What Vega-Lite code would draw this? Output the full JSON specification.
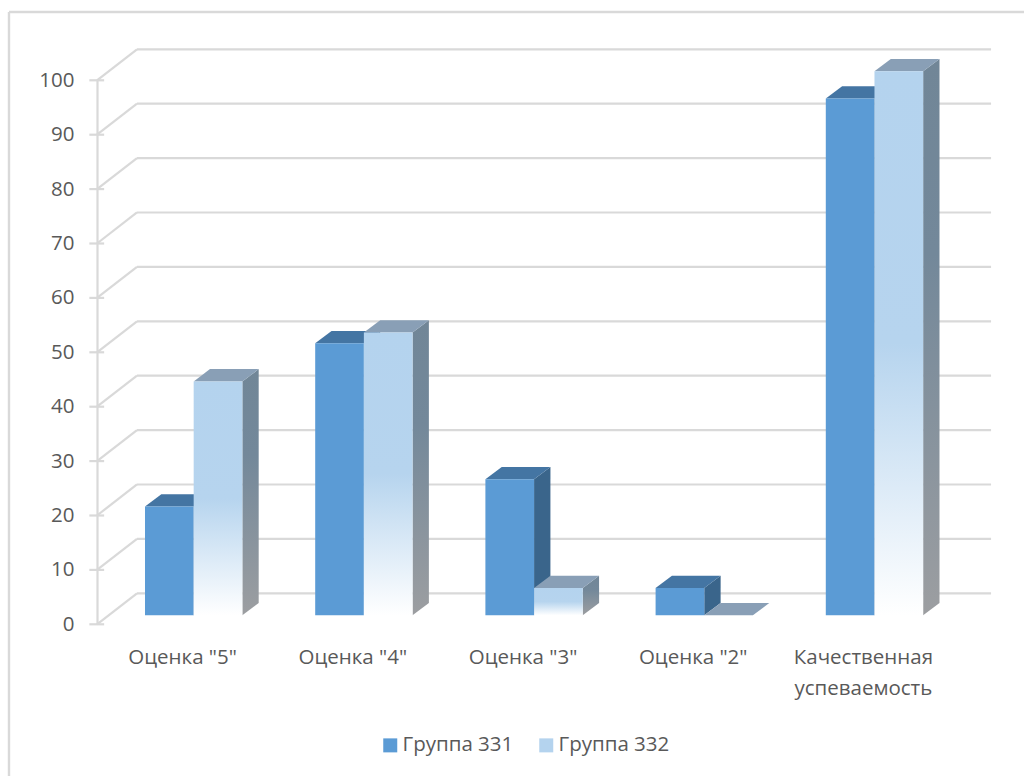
{
  "$schema": "https://vega.github.io/schema/vega-lite/v6.json",
  "autosize": {"type": "none"},
  "padding": {"left": 9, "top": 12, "right": 0, "bottom": 0},
  "width": 1015,
  "height": 764,
  "background": "white",
  "view": {"stroke": null},
  "config": {"font": "Open Sans", "axis": {"grid": false}},
  "data": {"values": [
    {"category": "Оценка \"5\"", "series": "Группа 331", "value": 20},
    {"category": "Оценка \"5\"", "series": "Группа 332", "value": 43},
    {"category": "Оценка \"4\"", "series": "Группа 331", "value": 50},
    {"category": "Оценка \"4\"", "series": "Группа 332", "value": 52},
    {"category": "Оценка \"3\"", "series": "Группа 331", "value": 25},
    {"category": "Оценка \"3\"", "series": "Группа 332", "value": 5},
    {"category": "Оценка \"2\"", "series": "Группа 331", "value": 5},
    {"category": "Оценка \"2\"", "series": "Группа 332", "value": 0},
    {"category": "Качественная успеваемость", "series": "Группа 331", "value": 95},
    {"category": "Качественная успеваемость", "series": "Группа 332", "value": 100}
  ]},
  "transform": [
    {"calculate": "indexof(['Оценка \"5\"','Оценка \"4\"','Оценка \"3\"','Оценка \"2\"','Качественная успеваемость'], datum.category)", "as": "slot"},
    {"calculate": "datum.slot + 0.282 + (datum.series === 'Группа 331' ? 0 : 0.286)", "as": "left"},
    {"calculate": "datum.left + 0.286", "as": "right"},
    {"calculate": "datum.value + 1.65", "as": "top"},
    {"calculate": "1.65", "as": "base"},
    {"calculate": "datum.category + datum.series", "as": "bar"},
    {"calculate": "[0, 1]", "as": "depth"},
    {"flatten": ["depth"]},
    {"calculate": "datum.left + datum.depth * 0.096", "as": "leftBack"},
    {"calculate": "datum.right + datum.depth * 0.096", "as": "rightBack"},
    {"calculate": "datum.top + datum.depth * 2.26", "as": "topBack"},
    {"calculate": "1.65 + datum.depth * 2.26", "as": "baseBack"}
  ],
  "layer": [
    {
      "description": "Invisible carrier of the axes and the legend",
      "transform": [{"filter": "datum.depth === 0 && datum.series === 'Группа 331'"}],
      "mark": {"type": "rect", "opacity": 0},
      "encoding": {
        "x": {
          "field": "left", "type": "quantitative",
          "scale": {"domain": [0, 5], "range": [88, 939]},
          "axis": {
            "title": null, "orient": "bottom", "offset": -151.7,
            "values": [0.5, 1.5, 2.5, 3.5, 4.5],
            "labelExpr": "[['Оценка \"5\"'], ['Оценка \"4\"'], ['Оценка \"3\"'], ['Оценка \"2\"'], ['Качественная', 'успеваемость']][floor(datum.value)]",
            "domain": false, "ticks": false, "grid": false,
            "labelFontSize": 20.5, "labelColor": "#595959", "labelPadding": 23,
            "labelLineHeight": 31, "labelOverlap": false, "labelFlush": false, "labelBound": false
          }
        },
        "x2": {"field": "right"},
        "y": {
          "field": "top", "type": "quantitative",
          "scale": {"domain": [0, 100], "range": [612.3, 68.3], "nice": false},
          "axis": {
            "title": null, "orient": "left", "offset": -88,
            "values": [0, 10, 20, 30, 40, 50, 60, 70, 80, 90, 100],
            "domain": true, "domainColor": "#D9D9D9", "domainWidth": 2.2,
            "ticks": false, "grid": false,
            "labelFontSize": 20.5, "labelColor": "#595959", "labelPadding": 23
          }
        },
        "y2": {"field": "base"},
        "color": {
          "field": "series", "type": "nominal",
          "scale": {"domain": ["Группа 331", "Группа 332"], "range": ["#5B9BD5", "#B4D3EE"]},
          "legend": {
            "title": null, "orient": "none", "legendX": 371, "legendY": 723,
            "direction": "horizontal", "symbolType": "square", "symbolSize": 196,
            "symbolStrokeWidth": 0, "symbolOpacity": 1, "labelFontSize": 20.5, "labelColor": "#595959",
            "labelOffset": 2, "columnPadding": 22, "padding": 0,
            "encoding": {"symbols": {"update": {"opacity": {"value": 1}, "fill": {"signal": "datum.value === 'Группа 332' ? {gradient: 'linear', x1: 0, y1: 0, x2: 0, y2: 1, stops: [{offset: 0, color: '#B4D3EE'}, {offset: 0.6, color: '#B6D4EE'}, {offset: 1, color: '#FFFFFF'}]} : '#5B9BD5'"}}}}
          }
        }
      }
    },
    {
      "description": "Chart frame, only its left and top edges",
      "data": {"values": [{"edge": "frame"}]},
      "mark": {"type": "rule", "color": "#D9D9D9", "strokeWidth": 2.4},
      "encoding": {"x": {"value": 0}}
    },
    {
      "data": {"values": [{"edge": "frame"}]},
      "mark": {"type": "rule", "color": "#D9D9D9", "strokeWidth": 2.4},
      "encoding": {"y": {"value": 0}}
    },
    {
      "description": "Back wall lines",
      "data": {"values": [{"tick": 0}, {"tick": 10}, {"tick": 20}, {"tick": 30}, {"tick": 40}, {"tick": 50}, {"tick": 60}, {"tick": 70}, {"tick": 80}, {"tick": 90}, {"tick": 100}]},
      "transform": [
        {"calculate": "datum.tick + 5.7", "as": "back"},
        {"calculate": "0.235", "as": "wallStart"},
        {"calculate": "5.253", "as": "wallEnd"}
      ],
      "mark": {"type": "rule", "color": "#D9D9D9", "strokeWidth": 2.2},
      "encoding": {
        "x": {"field": "wallStart", "type": "quantitative"},
        "x2": {"field": "wallEnd"},
        "y": {"field": "back", "type": "quantitative"}
      }
    },
    {
      "description": "Side wall lines running from the axis to the back wall",
      "data": {"values": [{"tick": 0}, {"tick": 10}, {"tick": 20}, {"tick": 30}, {"tick": 40}, {"tick": 50}, {"tick": 60}, {"tick": 70}, {"tick": 80}, {"tick": 90}, {"tick": 100}]},
      "transform": [
        {"calculate": "datum.tick + 5.7", "as": "back"},
        {"calculate": "0", "as": "wallStart"},
        {"calculate": "0.235", "as": "wallEnd"}
      ],
      "mark": {"type": "rule", "color": "#D9D9D9", "strokeWidth": 2.2},
      "encoding": {
        "x": {"field": "wallStart", "type": "quantitative"},
        "x2": {"field": "wallEnd"},
        "y": {"field": "tick", "type": "quantitative"},
        "y2": {"field": "back"}
      }
    },
    {
      "description": "Tick marks crossing the value axis",
      "data": {"values": [{"tick": 0}, {"tick": 10}, {"tick": 20}, {"tick": 30}, {"tick": 40}, {"tick": 50}, {"tick": 60}, {"tick": 70}, {"tick": 80}, {"tick": 90}, {"tick": 100}]},
      "transform": [
        {"calculate": "-0.045", "as": "tickStart"},
        {"calculate": "0.042", "as": "tickEnd"}
      ],
      "mark": {"type": "rule", "color": "#D9D9D9", "strokeWidth": 2.2},
      "encoding": {
        "x": {"field": "tickStart", "type": "quantitative"},
        "x2": {"field": "tickEnd"},
        "y": {"field": "tick", "type": "quantitative"}
      }
    },
    {
      "description": "Side faces of the first group",
      "transform": [{"filter": "datum.series === 'Группа 331'"}],
      "mark": {"type": "area", "opacity": 1, "color": "#3A658B"},
      "encoding": {
        "detail": {"field": "bar"},
        "x": {"field": "rightBack", "type": "quantitative"},
        "y": {"field": "topBack", "type": "quantitative"},
        "y2": {"field": "baseBack"}
      }
    },
    {
      "description": "Side faces of the second group",
      "transform": [{"filter": "datum.series === 'Группа 332' && datum.value > 0"}],
      "mark": {"type": "area", "opacity": 1, "color": {"gradient": "linear", "x1": 0, "y1": 0, "x2": 0, "y2": 1, "stops": [{"offset": 0, "color": "#718697"}, {"offset": 0.35, "color": "#73889A"}, {"offset": 1, "color": "#9C9EA1"}]}},
      "encoding": {
        "detail": {"field": "bar"},
        "x": {"field": "rightBack", "type": "quantitative"},
        "y": {"field": "topBack", "type": "quantitative"},
        "y2": {"field": "baseBack"}
      }
    },
    {
      "description": "Top faces of the first group",
      "transform": [{"filter": "datum.series === 'Группа 331'"}],
      "mark": {"type": "area", "orient": "horizontal", "opacity": 1, "color": "#4475A3"},
      "encoding": {
        "detail": {"field": "bar"},
        "x": {"field": "leftBack", "type": "quantitative"},
        "x2": {"field": "rightBack"},
        "y": {"field": "topBack", "type": "quantitative"}
      }
    },
    {
      "description": "Top faces of the second group",
      "transform": [{"filter": "datum.series === 'Группа 332'"}],
      "mark": {"type": "area", "orient": "horizontal", "opacity": 1, "color": "#899FB6"},
      "encoding": {
        "detail": {"field": "bar"},
        "x": {"field": "leftBack", "type": "quantitative"},
        "x2": {"field": "rightBack"},
        "y": {"field": "topBack", "type": "quantitative"}
      }
    },
    {
      "description": "Front faces of the first group",
      "transform": [{"filter": "datum.depth === 0 && datum.series === 'Группа 331'"}],
      "mark": {"type": "rect", "color": "#5B9BD5"},
      "encoding": {
        "x": {"field": "left", "type": "quantitative"},
        "x2": {"field": "right"},
        "y": {"field": "top", "type": "quantitative"},
        "y2": {"field": "base"}
      }
    },
    {
      "description": "Front faces of the second group, fading to white at the floor",
      "transform": [{"filter": "datum.depth === 0 && datum.series === 'Группа 332'"}],
      "mark": {"type": "rect", "color": {"gradient": "linear", "x1": 0, "y1": 0, "x2": 0, "y2": 1, "stops": [{"offset": 0, "color": "#B4D3EE"}, {"offset": 0.5, "color": "#B6D4EE"}, {"offset": 1, "color": "#FFFFFF"}]}},
      "encoding": {
        "x": {"field": "left", "type": "quantitative"},
        "x2": {"field": "right"},
        "y": {"field": "top", "type": "quantitative"},
        "y2": {"field": "base"}
      }
    }
  ]
}
